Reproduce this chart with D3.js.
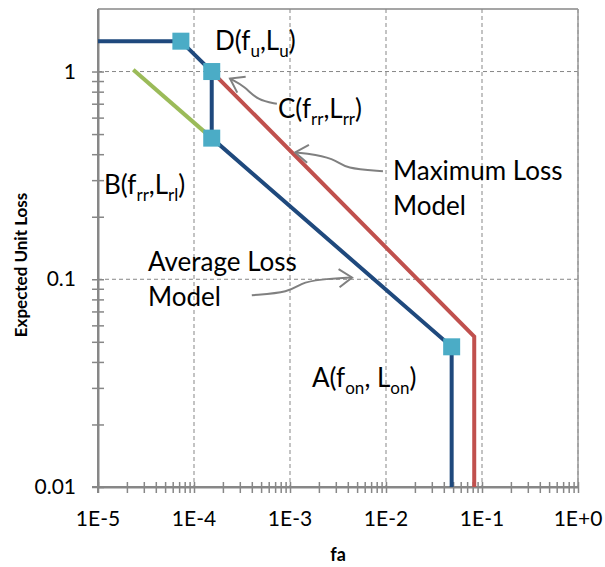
<!DOCTYPE html>
<html><head><meta charset="utf-8">
<script src="https://cdn.jsdelivr.net/npm/d3@7"></script>
<style>body{margin:0;background:#fff}svg{display:block}</style>
</head><body>
<script>
// ---- data ----
const avgF = [1e-5, 7.3e-5, 1.53e-4, 1.53e-4, 0.0483, 0.0483];
const avgL = [1.40, 1.40, 1.0, 0.478, 0.0473, 0.01];
const maxF = [1.53e-4, 0.083, 0.083];
const maxL = [1.0, 0.053, 0.01];
const rrF = [2.33e-5, 1.53e-4];
const rrL = [1.02, 0.478];
const pointF = [7.3e-5, 1.53e-4, 1.53e-4, 0.0483];
const pointL = [1.40, 1.0, 0.478, 0.0473];
const xTickValues = [1e-5, 1e-4, 1e-3, 1e-2, 1e-1, 1];
const xTickLabels = ["1E-5", "1E-4", "1E-3", "1E-2", "1E-1", "1E+0"];
const yTickValues = [0.01, 0.1, 1];
const yTickLabels = ["0.01", "0.1", "1"];
const xTitle = "fa";
const yTitle = "Expected Unit Loss";
// annotation arrows (data space)
const arrowC = [[7.3e-4,0.70],[4.6e-4,0.725],[3.4e-4,0.847],[2.37e-4,0.925]];
const arrowMax = [[9.3e-3,0.331],[3.7e-3,0.342],[3.16e-3,0.373],[1.82e-3,0.399],[1.13e-3,0.408]];
const arrowAvg = [[4.0e-4,0.0838],[1e-3,0.0866],[1.27e-3,0.0957],[2.05e-3,0.1],[4.43e-3,0.102]];

const W = 605, H = 567;
const m = {left: 98, right: 27, top: 9, bottom: 80};
const svg = d3.select("body").append("svg").attr("width", W).attr("height", H);
const font = "Lato, 'Open Sans', sans-serif";

const x = d3.scaleLog().domain([1e-5, 1]).range([m.left, W - m.right]);
const y = d3.scaleLog().domain([0.01, 2]).range([H - m.bottom, m.top]);
const axisCol = "#878787";

// gridlines
const g = svg.append("g");
g.selectAll(".vg").data(xTickValues.slice(1)).join("line")
  .attr("x1", d => x(d)).attr("x2", d => x(d)).attr("y1", y(2)).attr("y2", y(0.01))
  .attr("stroke", axisCol).attr("stroke-width", 1).attr("stroke-dasharray", "4,3");
g.selectAll(".hg").data(yTickValues.slice(1)).join("line")
  .attr("x1", x(1e-5)).attr("x2", x(1)).attr("y1", d => y(d)).attr("y2", d => y(d))
  .attr("stroke", axisCol).attr("stroke-width", 1).attr("stroke-dasharray", "4,3");
g.append("line").attr("x1", x(1e-5)).attr("x2", x(1)).attr("y1", y(2)).attr("y2", y(2))
  .attr("stroke", axisCol).attr("stroke-width", 1.5);
g.append("line").attr("x1", x(1)).attr("x2", x(1)).attr("y1", y(2)).attr("y2", y(0.01))
  .attr("stroke", "#9a9a9a").attr("stroke-width", 1.5);

// axes
const xAxis = d3.axisBottom(x).tickValues(x.ticks()).tickFormat("").tickSizeInner(6).tickSizeOuter(0);
const xa = svg.append("g").attr("transform", `translate(0,${y(0.01)})`).call(xAxis);
xa.select(".domain").attr("stroke", axisCol).attr("stroke-width", 2);
xa.selectAll(".tick line").attr("stroke", axisCol).attr("stroke-width", 1.5).attr("y1", -5).attr("y2", 6);
const yAxis = d3.axisLeft(y).tickValues(y.ticks().filter(v => v <= 1)).tickFormat("").tickSizeInner(6).tickSizeOuter(0);
const ya = svg.append("g").attr("transform", `translate(${x(1e-5)},0)`).call(yAxis);
ya.select(".domain").attr("stroke", axisCol).attr("stroke-width", 2);
ya.selectAll(".tick line").attr("stroke", axisCol).attr("stroke-width", 1.5).attr("x1", 6).attr("x2", -6);
svg.append("line").attr("x1", x(1e-5) - 6).attr("x2", x(1)).attr("y1", y(0.01)).attr("y2", y(0.01)).attr("stroke", axisCol).attr("stroke-width", 2);
svg.append("line").attr("x1", x(1e-5)).attr("x2", x(1e-5)).attr("y1", y(2)).attr("y2", y(0.01) + 6).attr("stroke", axisCol).attr("stroke-width", 2);

// tick labels
svg.selectAll(".xl").data(xTickValues).join("text")
  .attr("x", d => x(d)).attr("y", y(0.01) + 39).attr("text-anchor", "middle")
  .attr("font-family", font).attr("font-size", 21).attr("fill", "#000")
  .text((d, i) => xTickLabels[i]);
svg.selectAll(".yl").data(yTickValues).join("text")
  .attr("x", x(1e-5) - 22).attr("y", d => y(d) + 7).attr("text-anchor", "end")
  .attr("font-family", font).attr("font-size", 21).attr("fill", "#000")
  .text((d, i) => yTickLabels[i]);

// axis titles
svg.append("text").attr("x", (x(1e-5) + x(1)) / 2).attr("y", 561).attr("text-anchor", "middle")
  .attr("font-family", font).attr("font-weight", "bold").attr("font-size", 18).text(xTitle);
svg.append("text").attr("transform", `translate(27,265) rotate(-90)`).attr("text-anchor", "middle")
  .attr("font-family", font).attr("font-weight", "bold").attr("font-size", 17).text(yTitle);

// lines
const line = d3.line().x(d => x(d[0])).y(d => y(d[1]));
const zip = (a, b) => a.map((v, i) => [v, b[i]]);
svg.append("path").attr("d", line(zip(rrF, rrL))).attr("fill", "none").attr("stroke", "#9BBB59").attr("stroke-width", 4);
svg.append("path").attr("d", line(zip(maxF, maxL))).attr("fill", "none").attr("stroke", "#C0504D").attr("stroke-width", 4);
svg.append("path").attr("d", line(zip(avgF, avgL))).attr("fill", "none").attr("stroke", "#1F497D").attr("stroke-width", 4);
svg.selectAll(".mk").data(zip(pointF, pointL)).join("rect")
  .attr("x", d => x(d[0]) - 8.5).attr("y", d => y(d[1]) - 8.5).attr("width", 17).attr("height", 17)
  .attr("fill", "#4BACC6");

// arrows
svg.append("defs").append("marker").attr("id", "chev").attr("markerUnits", "userSpaceOnUse")
  .attr("viewBox", "-14 -11 16 22").attr("markerWidth", 16).attr("markerHeight", 22)
  .attr("refX", 0).attr("refY", 0).attr("orient", "auto")
  .append("path").attr("d", "M-13,-9 L0,0 L-13,9").attr("fill", "none").attr("stroke", "#808080").attr("stroke-width", 2);
const curve = d3.line().x(d => x(d[0])).y(d => y(d[1])).curve(d3.curveBasis);
[arrowC, arrowMax, arrowAvg].forEach(a => {
  svg.append("path").attr("d", curve(a)).attr("fill", "none").attr("stroke", "#808080").attr("stroke-width", 2)
    .attr("marker-end", "url(#chev)");
});

// annotation text
const FS = 26, SS = 17, SD = 7;
function label(px, py, parts) {
  const t = svg.append("text").attr("x", px).attr("y", py).attr("font-family", font).attr("font-size", FS).attr("fill", "#000");
  let low = false;
  parts.forEach(p => {
    if (typeof p === "string") { t.append("tspan").attr("dy", low ? -SD : 0).text(p); low = false; }
    else { t.append("tspan").attr("font-size", SS).attr("dy", SD).text(p.sub); low = true; }
  });
  return t;
}
label(215, 50, ["D(f", {sub: "u"}, ",L", {sub: "u"}, ")"]);
label(278, 118, ["C(f", {sub: "rr"}, ",L", {sub: "rr"}, ")"]);
label(104, 194, ["B(f", {sub: "rr"}, ",L", {sub: "rl"}, ")"]);
label(312, 387, ["A(f", {sub: "on"}, ", L", {sub: "on"}, ")"]);
const txt = (px, py, s) => svg.append("text").attr("x", px).attr("y", py).attr("font-family", font).attr("font-size", FS).text(s);
txt(393, 180, "Maximum Loss");
txt(393, 215, "Model");
txt(148, 271, "Average Loss");
txt(148, 306, "Model");
</script>
</body></html>
